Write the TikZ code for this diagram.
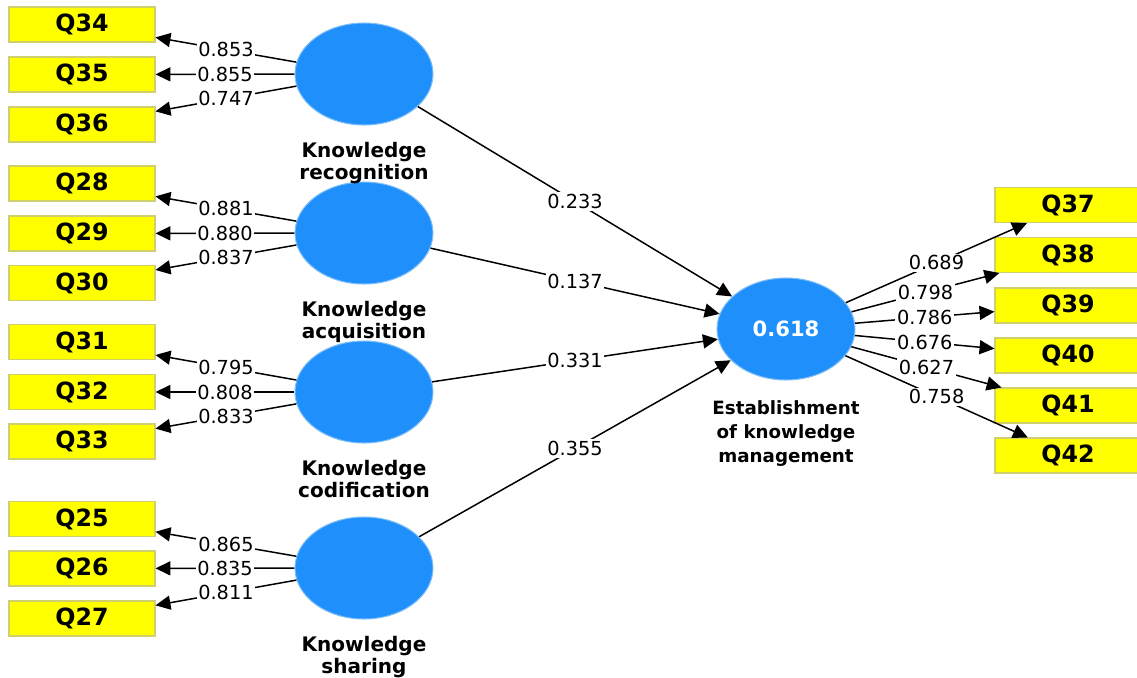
\documentclass[tikz,border=0pt]{standalone}
\usepackage{fontspec}
\setmainfont{DejaVu Sans}
\usepackage{tikz}
\usetikzlibrary{shapes.geometric,arrows.meta,positioning}
\definecolor{KMBlue}{HTML}{1E8FFB}
\definecolor{KMRing}{HTML}{7DBDF8}
\definecolor{KMYellow}{HTML}{FFFF00}
\definecolor{KMEdge}{HTML}{CFCF6E}

\tikzset{
  item/.style={draw=KMEdge,fill=KMYellow,line width=0.6pt,inner sep=0pt,
    minimum width=2.92cm,minimum height=0.70cm,
    font=\fontsize{13.5}{15}\selectfont\bfseries},
  latent/.style={ellipse,draw=KMRing,fill=KMBlue,line width=0.6pt,
    minimum width=2.76cm,minimum height=2.04cm,inner sep=0pt,
    text=white,font=\fontsize{12}{14}\selectfont\bfseries},
  caption/.style={align=center,inner sep=0pt,
    font=\fontsize{11.4}{12.6}\selectfont\bfseries},
  load/.style={-{Triangle[length=8.5pt,width=8pt]},line width=0.85pt},
  weight/.style={fill=white,inner sep=1pt,font=\fontsize{11}{12}\selectfont}
}

\begin{document}
\begin{tikzpicture}[x=0.02cm,y=-0.02cm]
\path[use as bounding box] (0,0) rectangle (1137,677);
% indicators, left
\node[item] (q34) at (82,24.5) {Q34};
\node[item] (q35) at (82,74.5) {Q35};
\node[item] (q36) at (82,124.5) {Q36};
\node[item] (q28) at (82,183.5) {Q28};
\node[item] (q29) at (82,233.5) {Q29};
\node[item] (q30) at (82,283) {Q30};
\node[item] (q31) at (82,342) {Q31};
\node[item] (q32) at (82,392) {Q32};
\node[item] (q33) at (82,441.5) {Q33};
\node[item] (q25) at (82,519) {Q25};
\node[item] (q26) at (82,568.5) {Q26};
\node[item] (q27) at (82,618.5) {Q27};
% indicators, right
\node[item] (q37) at (1068,205) {Q37};
\node[item] (q38) at (1068,255) {Q38};
\node[item] (q39) at (1068,305.5) {Q39};
\node[item] (q40) at (1068,355.5) {Q40};
\node[item] (q41) at (1068,405.5) {Q41};
\node[item] (q42) at (1068,455.5) {Q42};
% constructs
\node[latent] (recog) at (364,74) {};
\node[latent] (acqui) at (364,233) {};
\node[latent] (codif) at (364,392) {};
\node[latent] (share) at (364,568) {};
\node[latent] (estab) at (786,329) {0.618};
\node[caption,below=0.32cm of recog] (recogtxt) {Knowledge\\recognition};
\node[caption,below=0.32cm of acqui] (acquitxt) {Knowledge\\acquisition};
\node[caption,below=0.32cm of codif] (codiftxt) {Knowledge\\codification};
\node[caption,below=0.32cm of share] (sharetxt) {Knowledge\\sharing};
\node[caption,below=0.40cm of estab,font=\fontsize{10.4}{13.6}\selectfont\bfseries] (estabtxt) {Establishment\\of knowledge\\management};
% outer loadings
\draw[load] (recog) -- node[weight] {0.853} (q34);
\draw[load] (recog) -- node[weight] {0.855} (q35);
\draw[load] (recog) -- node[weight] {0.747} (q36);
\draw[load] (acqui) -- node[weight] {0.881} (q28);
\draw[load] (acqui) -- node[weight] {0.880} (q29);
\draw[load] (acqui) -- node[weight] {0.837} (q30);
\draw[load] (codif) -- node[weight] {0.795} (q31);
\draw[load] (codif) -- node[weight] {0.808} (q32);
\draw[load] (codif) -- node[weight] {0.833} (q33);
\draw[load] (share) -- node[weight] {0.865} (q25);
\draw[load] (share) -- node[weight] {0.835} (q26);
\draw[load] (share) -- node[weight] {0.811} (q27);
\draw[load] (estab) -- node[weight] {0.689} (q37);
\draw[load] (estab) -- node[weight] {0.798} (q38);
\draw[load] (estab) -- node[weight] {0.786} (q39);
\draw[load] (estab) -- node[weight] {0.676} (q40);
\draw[load] (estab) -- node[weight] {0.627} (q41);
\draw[load] (estab) -- node[weight] {0.758} (q42);
% path coefficients
\draw[load] (recog) -- node[weight] {0.233} (estab);
\draw[load] (acqui) -- node[weight] {0.137} (estab);
\draw[load] (codif) -- node[weight] {0.331} (estab);
\draw[load] (share) -- node[weight] {0.355} (estab);
\end{tikzpicture}
\end{document}
